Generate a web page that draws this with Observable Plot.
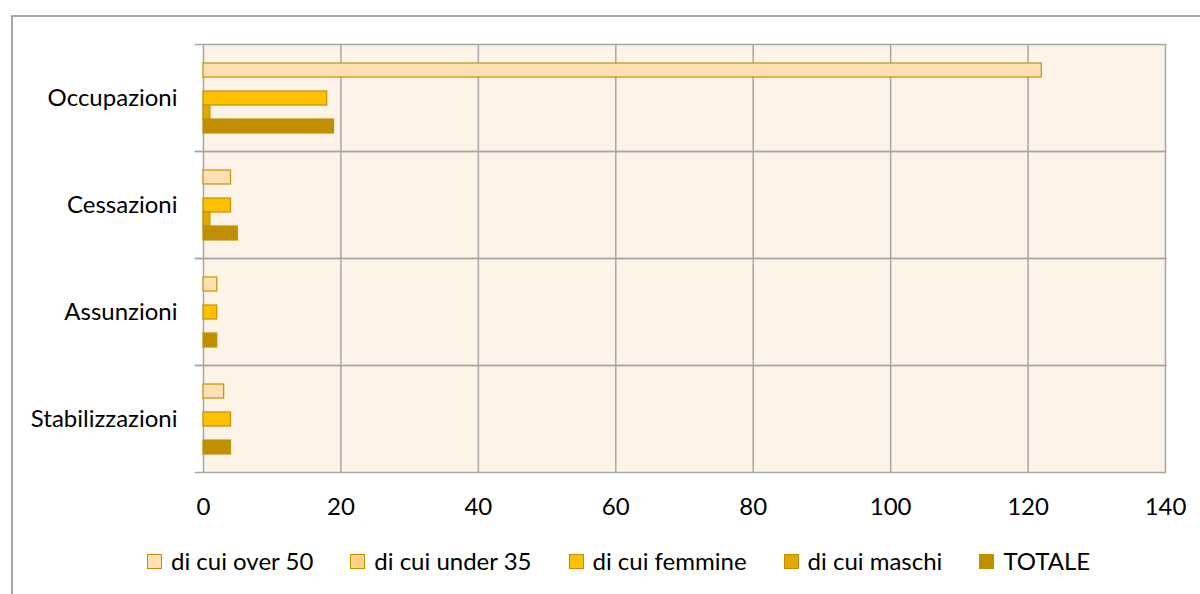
<!DOCTYPE html>
<html>
<head>
<meta charset="utf-8">
<script src="https://cdn.jsdelivr.net/npm/d3@7"></script>
<script src="https://cdn.jsdelivr.net/npm/@observablehq/plot@0.6"></script>
<style>
  html, body { margin: 0; padding: 0; background: #fff; overflow: hidden; }
  body { width: 1200px; height: 594px; position: relative; font-family: Lato, sans-serif; }
  #frame { position: absolute; left: 11px; top: 15px; right: -20px; bottom: -20px; border: 2px solid #A6A6A6; }
  #chart { position: absolute; left: 0; top: 0; }
  #legend { position: absolute; left: 147px; top: 546px; display: flex; align-items: center; font-size: 24px; line-height: 30px; color: #000; }
  .item { display: flex; align-items: center; margin-right: 37px; }
  .sw { width: 13px; height: 13px; border: 1.5px solid #C09000; margin-right: 9px; box-sizing: content-box; }
</style>
</head>
<body>
<div id="frame"></div>
<div id="chart"></div>
<div id="legend"></div>
<script>
const categories = ["Occupazioni", "Cessazioni", "Assunzioni", "Stabilizzazioni"];
const seriesNames = ["di cui over 50", "di cui under 35", "di cui femmine", "di cui maschi", "TOTALE"];
const over50  = [122, 4, 2, 3];
const under35 = [0, 0, 0, 0];
const femmine = [18, 4, 2, 4];
const maschi  = [1, 1, 0, 0];
const totale  = [19, 5, 2, 4];
const xTicks = [0, 20, 40, 60, 80, 100, 120, 140];
const colors = ["#FFE0B3", "#FFD386", "#FFC000", "#E2A900", "#BF8F00"];

const seriesValues = [over50, under35, femmine, maschi, totale];
const data = [];
categories.forEach((c, i) => {
  seriesNames.forEach((s, j) => {
    data.push({cat: c, series: s, value: seriesValues[j][i]});
  });
});

const grid = "#A6A6A6";
const chart = Plot.plot({
  width: 1200,
  height: 530,
  marginTop: 44,
  marginLeft: 203,
  marginRight: 35,
  marginBottom: 58,
  style: {fontFamily: "Lato, sans-serif", fontSize: "24px", color: "#000", background: "transparent"},
  x: {domain: [0, 140], ticks: xTicks, tickSize: 0, tickPadding: 25, label: null},
  y: {domain: seriesNames, axis: null, paddingInner: 0, paddingOuter: 1.2},
  fy: {domain: categories, padding: 0, axis: "left", label: null, tickSize: 0, tickPadding: 26},
  color: {domain: seriesNames, range: colors},
  marks: [
    Plot.frame({fill: "#FEF3E7", stroke: "none"}),
    Plot.ruleX(xTicks, {stroke: grid, strokeWidth: 1.5}),
    Plot.frame({anchor: "top", stroke: grid, strokeWidth: 1.5, insetLeft: -8}),
    Plot.frame({anchor: "bottom", stroke: grid, strokeWidth: 1.5, insetLeft: -8}),
    Plot.barX(data.filter(d => d.value > 0), {
      x: "value", y: "series", fy: "cat", fill: "series",
      stroke: "#C09000", strokeWidth: 1.3, strokeOpacity: 0.9
    })
  ]
});
document.getElementById("chart").appendChild(chart);

const legend = document.getElementById("legend");
seriesNames.forEach((s, j) => {
  const item = document.createElement("div");
  item.className = "item";
  const sw = document.createElement("div");
  sw.className = "sw";
  sw.style.background = colors[j];
  const t = document.createElement("span");
  t.textContent = s;
  item.appendChild(sw);
  item.appendChild(t);
  legend.appendChild(item);
});
</script>
</body>
</html>
